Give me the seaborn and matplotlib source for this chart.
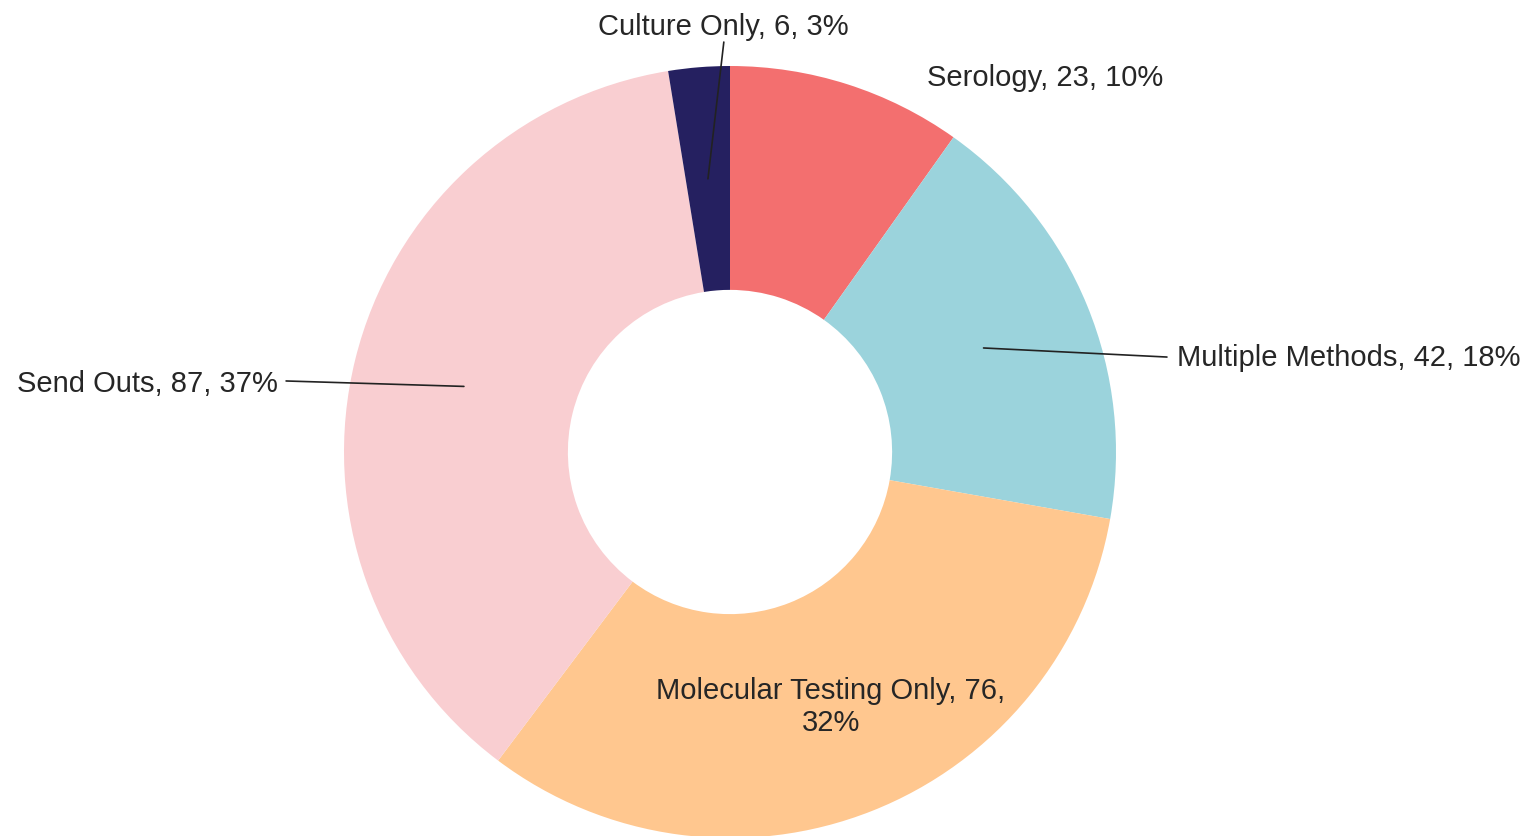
import numpy as np
import matplotlib
matplotlib.use("Agg")
import matplotlib.pyplot as plt
import seaborn as sns

categories = ["Serology", "Multiple Methods", "Molecular Testing Only", "Send Outs", "Culture Only"]
counts = [23, 42, 76, 87, 6]
percents = [10, 18, 32, 37, 3]
colors = ["#F36F6F", "#9BD3DC", "#FFC78F", "#F9CED1", "#252060"]

sns.set_theme(style="white")
plt.rcParams['font.family'] = ['Liberation Sans', 'DejaVu Sans']

fig = plt.figure(figsize=(15.29, 8.36), dpi=100)
ax = fig.add_axes([0, 0, 1, 1])

wedges, _ = ax.pie(counts, colors=colors, startangle=90, counterclock=False,
                   radius=1, wedgeprops=dict(width=0.58, linewidth=0))

ax.set_xlim(-730 / 386, (1529 - 730) / 386)
ax.set_ylim(-384 / 386, 452 / 386)
ax.set_aspect("equal")
ax.axis("off")

# label text positions (data units) and whether to draw a leader line
label_pos = {
    "Serology": ((0.816, 0.969), "center", False),
    "Multiple Methods": ((1.158, 0.244), "left", True),
    "Molecular Testing Only": (None, "center", False),
    "Send Outs": ((-1.171, 0.177), "right", True),
    "Culture Only": ((-0.018, 1.100), "center", True),
}
line_ends = {
    "Multiple Methods": (1.132, 0.246),
    "Send Outs": (-1.150, 0.184),
    "Culture Only": (-0.016, 1.062),
}

text_color = "#262626"
for w, cat, n, p in zip(wedges, categories, counts, percents):
    mid = np.deg2rad((w.theta1 + w.theta2) / 2)
    r = 0.71
    mx, my = r * np.cos(mid), r * np.sin(mid)
    pos, ha, line = label_pos[cat]
    if cat == "Molecular Testing Only":
        ax.text(mx, my, f"{cat}, {n},\n{p}%", ha="center", va="center",
                fontsize=21, color=text_color, linespacing=1.2)
        continue
    ax.text(pos[0], pos[1], f"{cat}, {n}, {p}%", ha=ha, va="center",
            fontsize=21, color=text_color)
    if line:
        ex, ey = line_ends[cat]
        ax.plot([mx, ex], [my, ey], color="#222222", linewidth=1.2)

fig.savefig("out.png", dpi=100)
